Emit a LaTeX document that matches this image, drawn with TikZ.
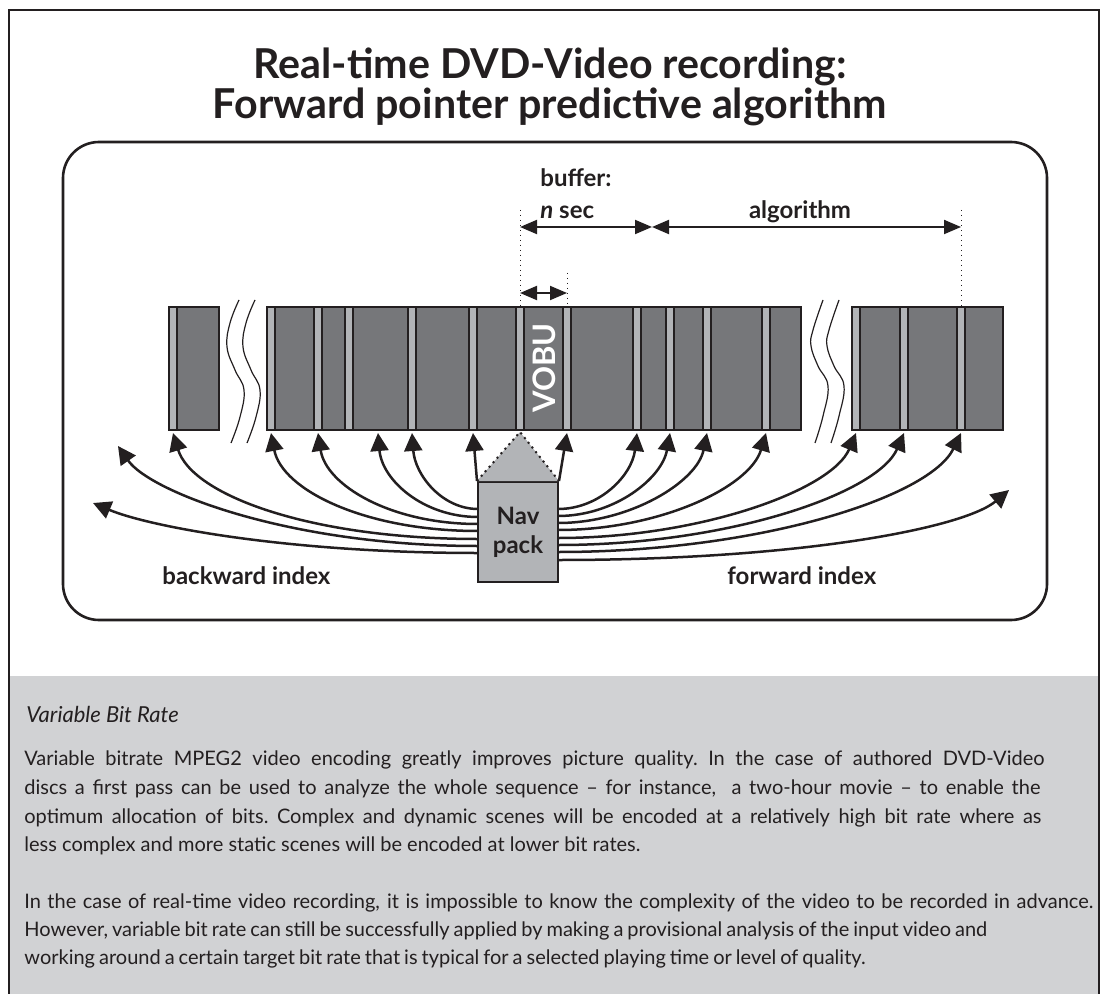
\documentclass[tikz,border=0pt]{standalone}
\usepackage{fontspec}
\setmainfont{Lato}
\usetikzlibrary{arrows.meta}
\definecolor{ink}{HTML}{231F20}
\definecolor{bardark}{HTML}{76777A}
\definecolor{stripe}{HTML}{B2B4B7}
\definecolor{panel}{HTML}{D1D2D4}
% one caption line set to a given width by flexing its interword spaces
\newcommand{\fitline}[2]{\hbox to #1{\spaceskip=0.2em plus 1.5em minus 0.05em\xspaceskip=\spaceskip\relax #2}}
% one caption line at its natural width with close word spacing
\newcommand{\tightline}[1]{\hbox{\spaceskip=0.2em\xspaceskip=\spaceskip\relax #1}}

\begin{document}
\begin{tikzpicture}[x=0.5pt,y=-0.5pt,
  frame/.style={draw=ink, line width=1.4pt},
  bar/.style={draw=ink, fill=bardark, line width=1pt},
  sep/.style={draw=ink, fill=stripe, line width=0.8pt},
  ptr/.style={draw=ink, line width=1.25pt, -{Triangle[length=9pt,width=9pt]}},
  dim/.style={draw=ink, line width=1pt, {Triangle[length=8.5pt,width=7pt]}-{Triangle[length=8.5pt,width=7pt]}},
  guide/.style={draw=ink, line width=0.5pt, dotted},
  wave/.style={draw=ink, line width=0.6pt},
  titlefont/.style={font=\bfseries\fontsize{20.6}{24}\selectfont, text=ink, inner sep=0pt, anchor=base},
  lbl/.style={font=\bfseries\fontsize{12}{14}\selectfont, text=ink, inner sep=0pt},
  body/.style={font=\fontsize{10}{14}\selectfont, text=ink, inner sep=0pt, anchor=base west},
  navbox/.style={draw=ink, fill=stripe, line width=1pt, minimum width=40pt, minimum height=50pt,
    inner sep=0pt, align=center, font=\bfseries\fontsize{12}{14.5}\selectfont, text=ink}
]
\useasboundingbox (0,0) rectangle (1101,994);

% caption panel and outer frame
\fill[panel] (9,676) rectangle (1099,994);
\draw[frame] (9,994) -- (9,10) -- (1099,10) -- (1099,994);

% title
\node[titlefont] (title1) at (550,79) {Real-time DVD-Video recording:};
\node[titlefont] (title2) at (550,119) {Forward pointer predictive algorithm};

% diagram frame
\draw[ink, line width=1.3pt, rounded corners=18pt] (63,142) rectangle (1047,620);

% stream blocks
\draw[bar] (169,307) rectangle (219,430);
\draw[bar] (267,307) rectangle (801,430);
\draw[bar] (852,307) rectangle (1003,430);
\foreach \c in {173,271,318,349,412,473,520,567,637,670,707,766,856,904,961}
  \draw[sep] (\c-4,307) rectangle (\c+4,430);

\node[rotate=90, font=\bfseries\fontsize{15.5}{15.5}\selectfont, text=white, inner sep=0pt] (vobu) at (544,368) {VOBU};

% breaks in the stream
\draw[wave] plot[smooth, tension=0.7] coordinates {(239,300) (230,323) (227,347) (235,370) (244,390) (240,417) (231,443)};
\draw[wave] plot[smooth, tension=0.7] coordinates {(255,300) (246,323) (243,347) (251,370) (260,390) (256,417) (247,443)};
\draw[wave] plot[smooth, tension=0.7] coordinates {(823,300) (813,330) (811,346) (818,366) (828,386) (823,416) (815,443)};
\draw[wave] plot[smooth, tension=0.7] coordinates {(839,300) (829,330) (827,346) (834,366) (844,386) (839,416) (831,443)};

% dimension guides
\coordinate (gA) at (520,210);  \coordinate (gAb) at (520,307);
\coordinate (gB) at (567,273);  \coordinate (gBb) at (567,307);
\coordinate (gC) at (961,210);  \coordinate (gCb) at (961,307);
\draw[guide] (gA) -- (gAb);
\draw[guide] (gB) -- (gBb);
\draw[guide] (gC) -- (gCb);

\coordinate (bufL) at (520,227);
\coordinate (bufR) at (652,227);
\coordinate (algR) at (961,227);
\coordinate (vobL) at (520,293);
\coordinate (vobR) at (567,293);
\draw[dim] (bufL) -- (bufR);
\draw[dim] (bufR) -- (algR);
\draw[dim] (vobL) -- (vobR);

\node[lbl, anchor=base west] (buf1) at (540,187) {buffer:};
\node[lbl, anchor=base west] (buf2) at (540,219) {\textit{n} sec};
\node[lbl, anchor=base] (alg) at (800,219) {algorithm};

% nav pack
\node[navbox] (nav) at (518,532) {Nav\\pack};
\coordinate (apex) at (520,432);
\fill[stripe] (nav.north west) -- (apex) -- (nav.north east) -- cycle;
\draw[ink, line width=1pt, dotted] (nav.north west) -- (apex) -- (nav.north east);

% pointer targets
\coordinate (tb1) at (473,433);
\coordinate (tb2) at (412,433);
\coordinate (tb3) at (378,433);
\coordinate (tb4) at (318,433);
\coordinate (tb5) at (271,433);
\coordinate (tb6) at (173,433);
\coordinate (tb7) at (118,446);
\coordinate (tb8) at (93,503);
\coordinate (tf1) at (567,433);
\coordinate (tf2) at (637,433);
\coordinate (tf3) at (670,433);
\coordinate (tf4) at (707,433);
\coordinate (tf5) at (766,433);
\coordinate (tf6) at (856,433);
\coordinate (tf7) at (904,433);
\coordinate (tf8) at (961,433);
\coordinate (tf9) at (1009,490);

% pointer sources on the nav pack
\coordinate (sb2) at (478,509);
\coordinate (sb3) at (478,517);
\coordinate (sb4) at (478,524);
\coordinate (sb5) at (478,531);
\coordinate (sb6) at (478,539);
\coordinate (sb7) at (478,546);
\coordinate (sb8) at (478,553);
\coordinate (sf2) at (558,509);
\coordinate (sf3) at (558,516);
\coordinate (sf4) at (558,523);
\coordinate (sf5) at (558,530);
\coordinate (sf6) at (558,538);
\coordinate (sf7) at (558,545);
\coordinate (sf8) at (558,552);
\coordinate (sf9) at (558,560);

% backward pointers
\draw[ptr] (nav.north west) -- (tb1);
\draw[ptr] (sb2) .. controls (442,509) and (415,475) .. (tb2);
\draw[ptr] (sb3) .. controls (423,517) and (382,480) .. (tb3);
\draw[ptr] (sb4) .. controls (390,524) and (326,485) .. (tb4);
\draw[ptr] (sb5) .. controls (365,531) and (282,490) .. (tb5);
\draw[ptr] (sb6) .. controls (310,539) and (192,495) .. (tb6);
\draw[ptr] (sb7) .. controls (290,546) and (150,492) .. (tb7);
\draw[ptr] (sb8) .. controls (290,553) and (150,527) .. (tb8);

% forward pointers
\draw[ptr] (nav.north east) -- (tf1);
\draw[ptr] (sf2) .. controls (600,509) and (632,475) .. (tf2);
\draw[ptr] (sf3) .. controls (615,516) and (662,478) .. (tf3);
\draw[ptr] (sf4) .. controls (630,523) and (697,482) .. (tf4);
\draw[ptr] (sf5) .. controls (660,530) and (750,487) .. (tf5);
\draw[ptr] (sf6) .. controls (700,538) and (832,490) .. (tf6);
\draw[ptr] (sf7) .. controls (730,545) and (878,493) .. (tf7);
\draw[ptr] (sf8) .. controls (760,552) and (930,497) .. (tf8);
\draw[ptr] (sf9) .. controls (800,560) and (964,528) .. (tf9);

\node[lbl, anchor=base west] (bwd) at (162,584) {backward index};
\node[lbl, anchor=base west] (fwd) at (727,584) {forward index};

% caption text
\node[body, font=\itshape\fontsize{11}{14}\selectfont] (cap) at (26,722) {Variable Bit Rate};
\node[body] (p1) at (24,765) {\fitline{510pt}{Variable bitrate MPEG2 video encoding greatly improves picture quality. In the case of authored DVD-Video}};
\node[body] (p2) at (24,794) {\fitline{508pt}{discs a first pass can be used to analyze the whole sequence -- for instance,\ \ a two-hour movie -- to enable the}};
\node[body] (p3) at (24,823) {\fitline{508.5pt}{optimum allocation of bits. Complex and dynamic scenes will be encoded at a relatively high bit rate where as}};
\node[body] (p4) at (24,851) {less complex and more static scenes will be encoded at lower bit rates.};
\node[body] (q1) at (24,908) {\fitline{534.5pt}{In the case of real-time video recording, it is impossible to know the complexity of the video to be recorded in advance.}};
\node[body] (q2) at (24,936) {\tightline{However, variable bit rate can still be successfully applied by making a provisional analysis of the input video and}};
\node[body] (q3) at (24,964) {\tightline{working around a certain target bit rate that is typical for a selected playing time or level of quality.}};
\end{tikzpicture}
\end{document}
